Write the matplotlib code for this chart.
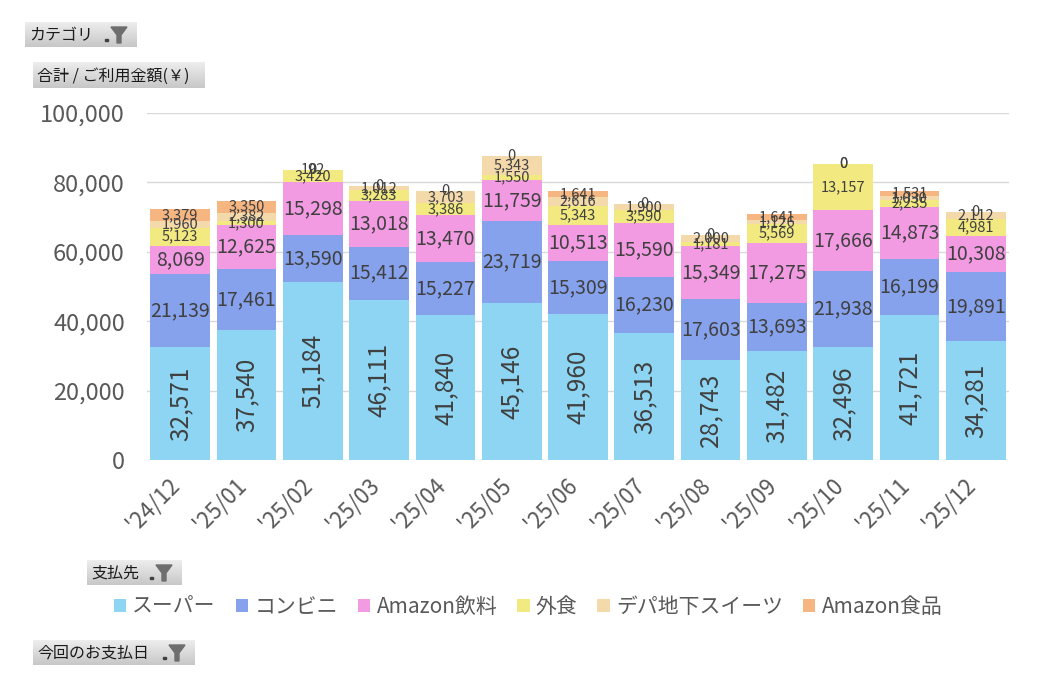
import numpy as np
import matplotlib.pyplot as plt
import matplotlib.transforms as mtransforms
from matplotlib.patches import Rectangle, Polygon

plt.rcParams['font.family'] = ['Noto Sans CJK JP', 'DejaVu Sans']

months = ["'24/12", "'25/01", "'25/02", "'25/03", "'25/04", "'25/05", "'25/06",
          "'25/07", "'25/08", "'25/09", "'25/10", "'25/11", "'25/12"]
series_names = ['スーパー', 'コンビニ', 'Amazon飲料', '外食', 'デパ地下スイーツ', 'Amazon食品']
super_mkt = [32571, 37540, 51184, 46111, 41840, 45146, 41960, 36513, 28743, 31482, 32496, 41721, 34281]
conbini = [21139, 17461, 13590, 15412, 15227, 23719, 15309, 16230, 17603, 13693, 21938, 16199, 19891]
amazon_drink = [8069, 12625, 15298, 13018, 13470, 11759, 10513, 15590, 15349, 17275, 17666, 14873, 10308]
dining = [5123, 1300, 3420, 3283, 3386, 1550, 5343, 3590, 1181, 5569, 13157, 2235, 4981]
depachika = [1960, 2382, 192, 1012, 3703, 5343, 2616, 1900, 2000, 1126, 0, 1030, 2112]
amazon_food = [3379, 3350, 0, 0, 0, 0, 1641, 0, 0, 1641, 0, 1531, 0]

colors = ['#8dd5f2', '#87a2ed', '#f29be3', '#f2ea80', '#f4d9ab', '#f5b682']
label_size = [17.5, 14, 14, 10.5, 10.5, 10.5]

fig = plt.figure(figsize=(10.39, 6.79), dpi=100)
ax = fig.add_axes([147 / 1039, 1 - 460 / 679, 862 / 1039, 347 / 679])

x = np.arange(len(months))
bottom = np.zeros(len(months))
handles = []
for i, vals in enumerate([super_mkt, conbini, amazon_drink, dining, depachika, amazon_food]):
    vals = np.array(vals, dtype=float)
    bars = ax.bar(x, vals, 0.9, bottom=bottom, color=colors[i], label=series_names[i], zorder=2)
    handles.append(bars)
    kw = dict(label_type='center', fmt='{:,.0f}', fontsize=label_size[i], color='#404040')
    if i == 0:
        kw['rotation'] = 90
    ax.bar_label(bars, **kw)
    bottom += vals

ax.set_xlim(-0.5, len(months) - 0.5)
ax.set_ylim(0, 100000)
ax.set_yticks(np.arange(0, 100001, 20000))
ax.yaxis.set_major_formatter(plt.FuncFormatter(lambda v, p: f'{v:,.0f}'))
ax.grid(axis='y', color='#d9d9d9', linewidth=1, zorder=0)
for s in ax.spines.values():
    s.set_visible(False)
ax.tick_params(length=0, colors='#595959')
ax.tick_params(axis='y', labelsize=17, pad=16)
ax.set_xticks(x)
ax.set_xticklabels(months, rotation=45, ha='right', rotation_mode='anchor', fontsize=16)
ax.tick_params(axis='x', pad=10)
shift = mtransforms.ScaledTranslation(-12 / 100, 0, fig.dpi_scale_trans)
for lab in ax.get_xticklabels():
    lab.set_transform(lab.get_transform() + shift)

fig.legend(handles, series_names, loc='center', bbox_to_anchor=(528 / 1039, 1 - 607 / 679),
           ncol=6, frameon=False, fontsize=15, handlelength=0.6, handleheight=0.6,
           handletextpad=0.3, columnspacing=0.95, labelcolor='#595959')

# field buttons of the pivot chart
ov = fig.add_axes([0, 0, 1, 1], zorder=-1)
ov.axis('off')
grad = np.linspace(0.93, 0.78, 50).reshape(-1, 1)


def button(x0, y0, w, h, text, funnel=True):
    ov.imshow(grad, cmap='gray', vmin=0, vmax=1, aspect='auto',
              extent=(x0, x0 + w, y0 + h, y0), zorder=1)
    ov.text(x0 + 4, y0 + h / 2 + 1, text, fontsize=11.5, color='#1a1a1a', va='center', ha='left', zorder=2)
    if funnel:
        fx = x0 + w - 18
        ov.add_patch(Polygon([[fx - 8, y0 + 5], [fx + 8, y0 + 5], [fx + 2, y0 + 13],
                              [fx + 2, y0 + h - 4], [fx - 2, y0 + h - 4], [fx - 2, y0 + 13]],
                             closed=True, color='#6e6e6e', zorder=3))
        ov.add_patch(Rectangle((fx - 14, y0 + h - 8), 3, 2, color='#404040', zorder=3))


button(25, 22, 112, 25, 'カテゴリ')
button(33, 62, 172, 26, '合計 / ご利用金額(￥)', funnel=False)
button(87, 560, 95, 25, '支払先')
button(33, 640, 162, 25, '今回のお支払日')
ov.set_xlim(0, 1039)
ov.set_ylim(679, 0)

fig.savefig('out.png', dpi=100)
